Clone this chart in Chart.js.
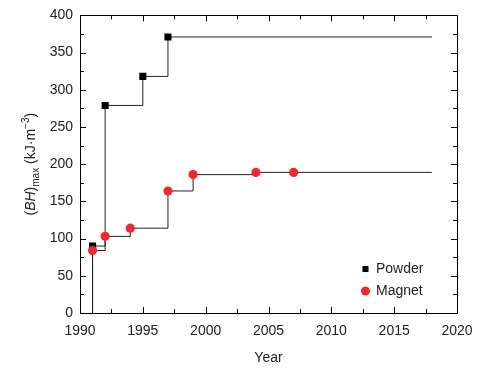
<!DOCTYPE html>
<html>
<head>
<meta charset="utf-8">
<script src="https://cdn.jsdelivr.net/npm/chart.js@4/dist/chart.umd.min.js"></script>
<style>
  html, body { margin: 0; padding: 0; background: #fff; }
  #wrap { width: 493px; height: 370px; }
</style>
</head>
<body>
<div id="wrap"><canvas id="bhChart" width="493" height="370"></canvas></div>
<script>
// values
const powderYears = [1991, 1992, 1995, 1997];
const powderValues = [90, 279, 318, 371];
const magnetYears = [1991, 1992, 1994, 1997, 1999, 2004, 2007];
const magnetValues = [84, 103, 114, 164, 186, 189, 189];
const lineEndYear = 2018;
const seriesNames = ["Powder", "Magnet"];

const xTicks = [1990, 1995, 2000, 2005, 2010, 2015, 2020];
const yTicks = [0, 50, 100, 150, 200, 250, 300, 350, 400];

const textColor = "#222";
const font = "'Liberation Sans', Arial, sans-serif";

// step line: rises from zero at the first year, runs flat to the end year
const makeLine = (years, values) => {
    const pts = years.map((yr, i) => ({ x: yr, y: values[i] }));
    pts.unshift({ x: years[0], y: 0 });
    pts.push({ x: lineEndYear, y: values[values.length - 1] });
    return pts;
};
const hideEnds = (ctx) => {
    const n = ctx.dataset.data.length;
    return (ctx.dataIndex === 0 || ctx.dataIndex === n - 1) ? 0 : ctx.dataset.markerSize;
};

// box, inward ticks, axis titles, legend
const decorations = {
    id: "decorations",
    afterDraw(chart) {
        const c = chart.ctx;
        const a = chart.chartArea;
        const xs = chart.scales.x, ys = chart.scales.y;
        c.save();
        c.strokeStyle = "#000";
        c.lineWidth = 1;
        c.beginPath();
        c.moveTo(Math.round(a.left) + 0.5, Math.round(a.top) + 0.5);
        c.lineTo(Math.round(a.right) + 0.5, Math.round(a.top) + 0.5);
        c.lineTo(Math.round(a.right) + 0.5, Math.round(a.bottom) + 0.5);
        c.stroke();

        c.beginPath();
        for (let v = 1990; v <= 2020; v += 2.5) {
            const px = Math.round(xs.getPixelForValue(v)) + 0.5;
            const len = (v % 5 === 0) ? 6 : 4;
            c.moveTo(px, a.bottom); c.lineTo(px, a.bottom - len);
            c.moveTo(px, a.top); c.lineTo(px, a.top + len);
        }
        for (let v = 0; v <= 400; v += 25) {
            const py = Math.round(ys.getPixelForValue(v)) + 0.5;
            const len = (v % 50 === 0) ? 6 : 4;
            c.moveTo(a.left, py); c.lineTo(a.left + len, py);
            c.moveTo(a.right, py); c.lineTo(a.right - len, py);
        }
        c.stroke();

        // x title
        c.fillStyle = textColor;
        c.font = "14px " + font;
        c.textAlign = "center";
        c.textBaseline = "middle";
        c.fillText("Year", (a.left + a.right) / 2, 358);

        // y title: (BH)max (kJ·m-3)
        const parts = [
            { t: "(", f: "14px " + font, dy: 0 },
            { t: "BH", f: "italic 14px " + font, dy: 0 },
            { t: ")", f: "14px " + font, dy: 0 },
            { t: "max", f: "10px " + font, dy: 4 },
            { t: " (kJ\u00b7m", f: "14px " + font, dy: 0 },
            { t: "\u22123", f: "10px " + font, dy: -6 },
            { t: ")", f: "14px " + font, dy: 0 }
        ];
        let total = 0;
        parts.forEach(p => { c.font = p.f; p.w = c.measureText(p.t).width; total += p.w; });
        c.translate(30, (a.top + a.bottom) / 2);
        c.rotate(-Math.PI / 2);
        c.textAlign = "left";
        c.textBaseline = "alphabetic";
        let x0 = -total / 2;
        parts.forEach(p => { c.font = p.f; c.fillText(p.t, x0, 5 + p.dy); x0 += p.w; });
        c.setTransform(1, 0, 0, 1, 0, 0);

        // legend
        const lx = 365.5, ly = [269, 291];
        c.fillStyle = "#000";
        c.fillRect(lx - 3, ly[0] - 3, 6, 6);
        c.fillStyle = "#ee2a2a";
        c.beginPath();
        c.arc(lx, ly[1], 4.5, 0, Math.PI * 2);
        c.fill();
        c.fillStyle = textColor;
        c.font = "14px " + font;
        c.textAlign = "left";
        c.textBaseline = "middle";
        c.fillText(seriesNames[0], 376, ly[0]);
        c.fillText(seriesNames[1], 376, ly[1]);
        c.restore();
    }
};

new Chart(document.getElementById("bhChart"), {
    type: "line",
    data: {
        datasets: [
            {
                label: seriesNames[1],
                data: makeLine(magnetYears, magnetValues),
                stepped: "before",
                borderColor: "#222",
                borderWidth: 1,
                pointStyle: "circle",
                markerSize: 4.6,
                pointRadius: hideEnds,
                pointBackgroundColor: "#ee2a2a",
                pointBorderWidth: 0,
                fill: false
            },
            {
                label: seriesNames[0],
                data: makeLine(powderYears, powderValues),
                stepped: "before",
                borderColor: "#222",
                borderWidth: 1,
                pointStyle: "rect",
                markerSize: 5,
                pointRadius: hideEnds,
                pointBackgroundColor: "#000",
                pointBorderWidth: 0,
                fill: false
            }
        ]
    },
    options: {
        responsive: false,
        animation: false,
        events: [],
        layout: { padding: { top: 13, right: 36, left: 0, bottom: 0 } },
        plugins: { legend: { display: false }, tooltip: { enabled: false } },
        scales: {
            x: {
                type: "linear",
                min: 1990, max: 2020,
                afterBuildTicks: (s) => { s.ticks = xTicks.map(v => ({ value: v })); },
                afterFit: (s) => { s.height = 57; },
                grid: { display: false, drawTicks: false },
                border: { display: true, color: "#000", width: 1 },
                ticks: { color: textColor, font: { family: font, size: 14 }, padding: 10, maxRotation: 0,
                         callback: (v) => String(v) }
            },
            y: {
                type: "linear",
                min: 0, max: 400,
                afterBuildTicks: (s) => { s.ticks = yTicks.map(v => ({ value: v })); },
                afterFit: (s) => { s.width = 80; },
                grid: { display: false, drawTicks: false },
                border: { display: true, color: "#000", width: 1 },
                ticks: { color: textColor, font: { family: font, size: 14 }, padding: 7,
                         callback: (v) => String(v) }
            }
        }
    },
    plugins: [decorations]
});
</script>
</body>
</html>
